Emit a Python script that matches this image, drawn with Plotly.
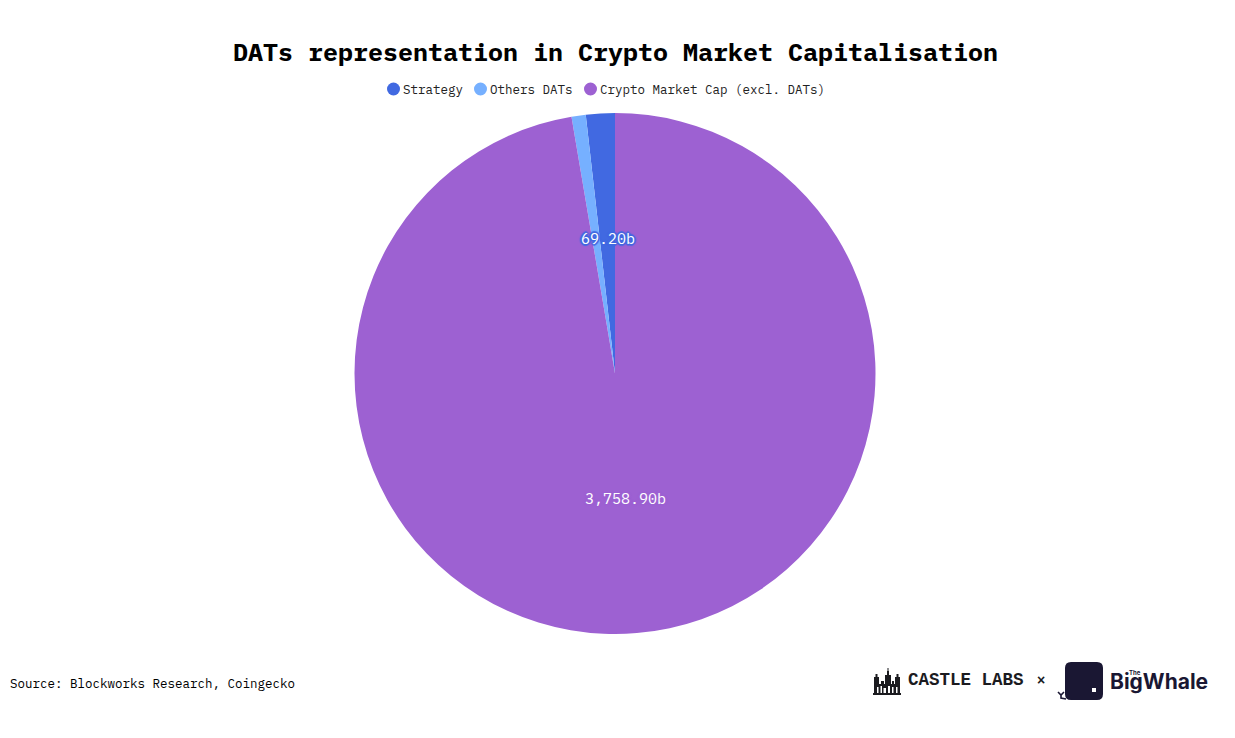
import math
import plotly.graph_objects as go

W, H = 1235, 738

categories = ["Strategy", "Others DATs", "Crypto Market Cap (excl. DATs)"]
values = [69.20, 34.0, 3758.90]
colors = ["#4169E1", "#76B0FF", "#9D61D2"]
shown_labels = ["69.20b", "", "3,758.90b"]

title = "DATs representation in Crypto Market Capitalisation"
source = "Source: Blockworks Research, Coingecko"

MONO = "'IBM Plex Mono', 'Liberation Mono', 'DejaVu Sans Mono', monospace"
CX, CY, R = 615, 373.5, 260.5


def px(x):
    return x / W


def py(y):
    return 1 - y / H


total = sum(values)

fig = go.Figure(go.Pie(
    labels=categories,
    values=values,
    sort=False,
    direction="counterclockwise",
    # plotly starts a ccw pie one slice early, pull Strategy back left of 12 o'clock
    rotation=-values[0] / total * 360,
    textinfo="none",
    showlegend=False,
    domain=dict(x=[px(CX - R), px(CX + R)], y=[py(CY + R), py(CY - R)]),
    marker=dict(colors=colors, line=dict(width=0)),
))

annotations = []
shapes = []


def add_text(x, y, text, size, color="#000000", anchor="left", family=MONO, **kw):
    annotations.append(dict(
        x=px(x), y=py(y), xref="paper", yref="paper", text=text, showarrow=False,
        xanchor=anchor, yanchor="middle", borderpad=0,
        font=dict(family=family, size=size, color=color, **kw),
    ))


def add_rect(x0, y0, x1, y1, color):
    shapes.append(dict(type="rect", xref="paper", yref="paper", fillcolor=color,
                       line=dict(width=0), x0=px(x0), x1=px(x1), y0=py(y1), y1=py(y0)))


add_text(615, 52, f"<b>{title}</b>", 25, anchor="center")
add_text(9, 683, source, 12.5)

# circle legend, the native one can't get this tight
legend_x = [393.5, 480.5, 590.5]
for name, color, x in zip(categories, colors, legend_x):
    shapes.append(dict(type="circle", xref="paper", yref="paper", fillcolor=color,
                       line=dict(width=0), x0=px(x - 6.5), x1=px(x + 6.5),
                       y0=py(89 + 6.5), y1=py(89 - 6.5)))
    add_text(x + 8, 89, name, 12.5, color="#222222")

# slice labels sit about halfway out along each slice's middle angle
start = 0
for value, color, label in zip(values, colors, shown_labels):
    mid = (start + value / 2) / total * 2 * math.pi
    start += value
    if not label:
        continue
    r = (0.52 if value / total < 0.5 else 0.48) * R
    lx = CX - r * math.sin(mid)
    ly = CY - r * math.cos(mid)
    # solid outline in the slice colour around the white text
    halo = ", ".join(f"{color} {dx}px {dy}px 1px" for dx, dy in
                     [(2, 0), (-2, 0), (0, 2), (0, -2), (1, 1), (-1, -1), (1, -1), (-1, 1)])
    add_text(lx + 0.5, ly, label, 15, color="#FFFFFF", anchor="center", shadow=halo)

# Castle Labs logo
INK = "#1B1B1F"
for box in [(875, 684, 900, 693), (874, 677, 879, 693), (885, 675, 891, 693), (895, 677, 900, 693),
            (873, 693, 901, 695), (887, 671, 889, 675), (875.5, 674, 877.5, 677), (896.5, 674, 898.5, 677),
            (887.5, 668, 888.5, 671), (881, 681, 884, 684), (892, 681, 894, 684)]:
    add_rect(*box, INK)
for box in [(877, 687, 878.5, 693), (880.5, 686, 882, 693), (883.5, 688, 886, 693),
            (888, 686, 890, 693), (892, 687, 893.5, 693), (896, 687, 897.5, 693)]:
    add_rect(*box, "#FFFFFF")
add_text(965.5, 680, "<b>CASTLE LABS</b>", 17.5, color=INK, anchor="center", family="'Liberation Mono', monospace")
add_text(1041, 680, "<b>×</b>", 14, color=INK, anchor="center", family="'Liberation Sans', sans-serif")

# Big Whale logo
NAVY = "#1A1733"


def rounded(x0, y0, x1, y1, r):
    pts = [f"M{px(x0 + r)},{py(y0)}", f"L{px(x1 - r)},{py(y0)}", f"Q{px(x1)},{py(y0)} {px(x1)},{py(y0 + r)}",
           f"L{px(x1)},{py(y1 - r)}", f"Q{px(x1)},{py(y1)} {px(x1 - r)},{py(y1)}", f"L{px(x0 + r)},{py(y1)}",
           f"Q{px(x0)},{py(y1)} {px(x0)},{py(y1 - r)}", f"L{px(x0)},{py(y0 + r)}",
           f"Q{px(x0)},{py(y0)} {px(x0 + r)},{py(y0)}", "Z"]
    return " ".join(pts)


shapes.append(dict(type="path", xref="paper", yref="paper", path=rounded(1065, 662, 1103, 700, 6),
                   fillcolor=NAVY, line=dict(width=0)))
add_rect(1092, 688, 1096, 692, "#FFFFFF")
shapes.append(dict(type="path", xref="paper", yref="paper", fillcolor="rgba(0,0,0,0)",
                   line=dict(color=NAVY, width=1.6),
                   path=f"M{px(1058)},{py(692)} L{px(1061)},{py(695)} L{px(1064)},{py(692)} "
                        f"M{px(1061)},{py(695)} L{px(1061)},{py(698)} L{px(1066)},{py(699)}"))
add_text(1159, 681, "<b>BigWhale</b>", 21, color=NAVY, anchor="center",
         family="Inter, 'Liberation Sans', sans-serif")
add_text(1135, 672, "<b>The</b>", 6, color=NAVY, anchor="center", family="Inter, sans-serif")

fig.update_layout(
    width=W, height=H,
    margin=dict(l=0, r=0, t=0, b=0),
    paper_bgcolor="white",
    annotations=annotations,
    shapes=shapes,
)

fig.write_html("out.html", config=dict(displayModeBar=False),
               post_script="document.body.style.margin='0';")
